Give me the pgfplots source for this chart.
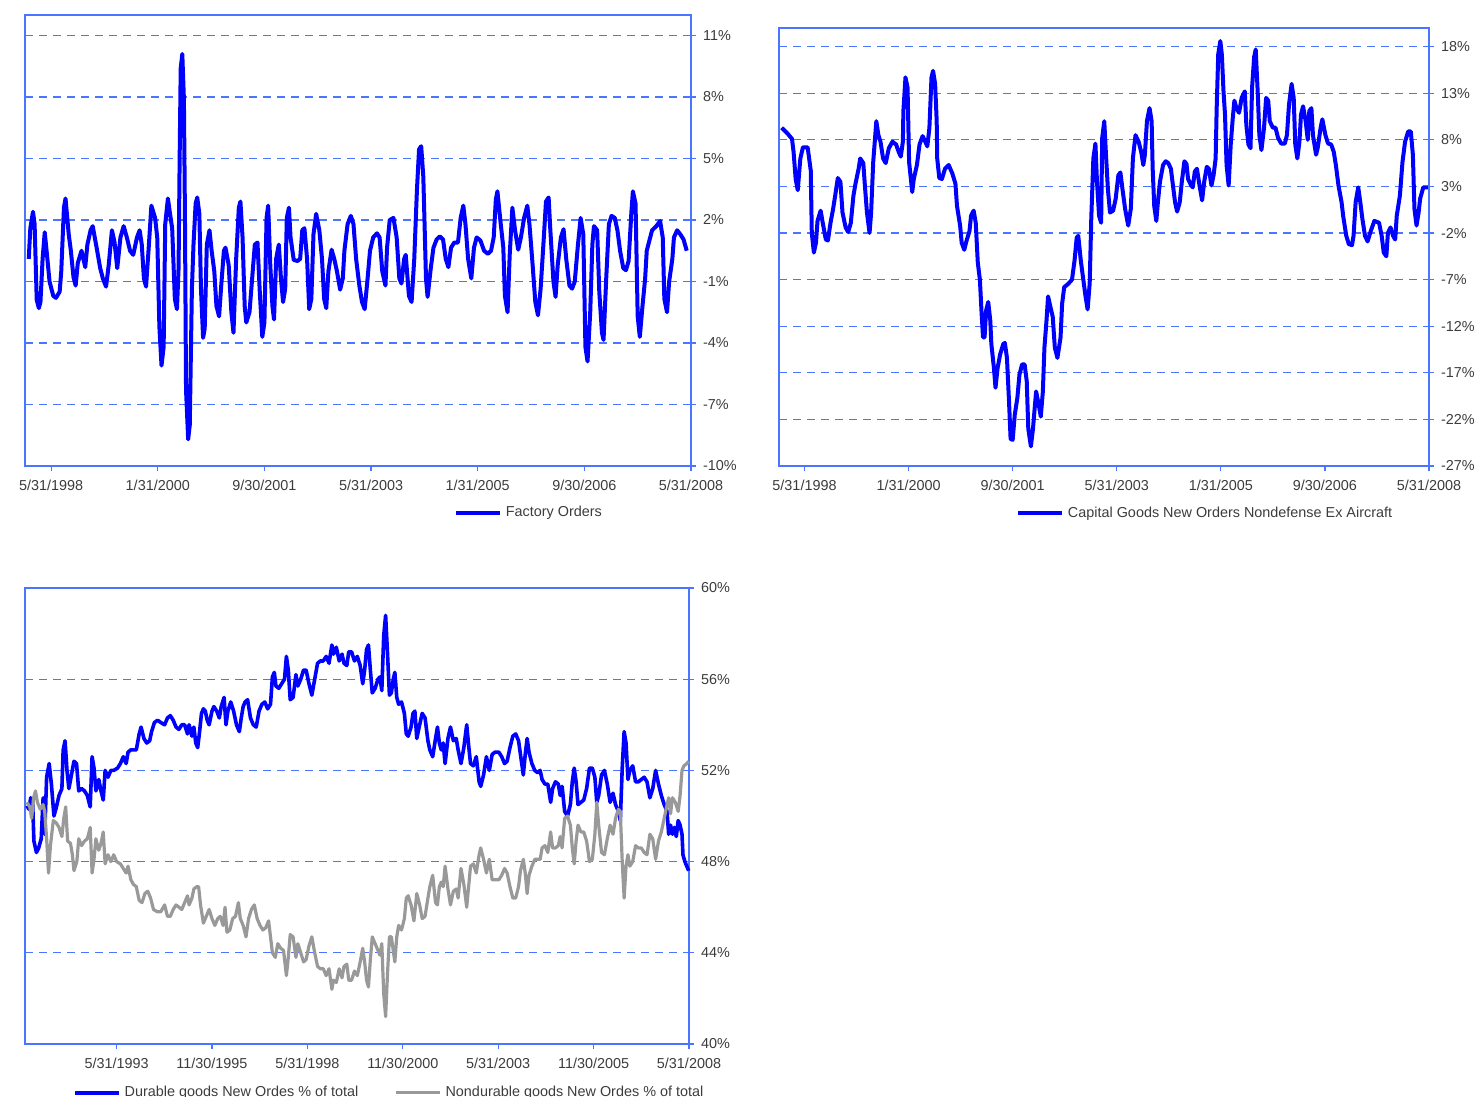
\documentclass[border=0pt]{standalone}
\usepackage{pgfplots}
\pgfplotsset{compat=1.18}
\usepackage{fontspec}
\setmainfont{Liberation Sans}
\definecolor{frameblue}{HTML}{4A76FF}
\definecolor{lineblue}{HTML}{0000FF}
\definecolor{linegray}{HTML}{999999}
\definecolor{labelgray}{HTML}{3C3C3C}

\pgfplotsset{
  panel/.style={
    scale only axis,
    axis line style={frameblue, line width=0.75pt},
    tick style={frameblue, line width=0.6pt},
    major tick length=2.5pt,
    tick align=outside,
    xtick pos=bottom, ytick pos=right, yticklabel pos=right,
    ymajorgrids,
    grid style={frameblue, dash pattern=on 4pt off 3pt, line width=0.6pt},
    tick label style={font=\fontsize{7.2}{8}\selectfont, text=labelgray},
    xticklabel style={yshift=-1pt},
    /pgf/number format/assume math mode=true,
    /pgf/number format/fixed, /pgf/number format/precision=0,
    yticklabel={\pgfmathprintnumber{\tick}\%},
    legend style={draw=none, fill=none, anchor=center, inner sep=0pt,
      font=\fontsize{7.2}{8}\selectfont, text=labelgray,
      /tikz/every even column/.append style={column sep=16pt}},
    legend image code/.code={\draw[##1] (0pt,0pt) -- (22pt,0pt);},
    clip=false,
  },
}

\begin{document}
\begin{tikzpicture}
\useasboundingbox (0,0) rectangle (738.5pt,548.5pt);

% Factory Orders
\begin{axis}[panel,
  at={(12.5pt,315.5pt)}, anchor=south west,
  width=333pt, height=225.5pt,
  xmin=-4.9, xmax=120, ymin=-10, ymax=12,
  xtick={0,20,...,120},
  xticklabels={5/31/1998,1/31/2000,9/30/2001,5/31/2003,1/31/2005,9/30/2006,5/31/2008},
  ytick={-10,-7,...,11},
  legend style={at={(0.758,-0.104)}},
]
\addplot[lineblue, line width=2pt, line join=round] coordinates {
(-4.2,0.1)(-3.9,1.6)(-3.4,2.4)(-3.1,1.8)(-2.7,-1.9)(-2.3,-2.3)(-2.0,-2.0)(-1.6,0.1)(-1.2,1.4)(-0.7,0.1)(-0.3,-1.0)(0.4,-1.7)(0.9,-1.8)(1.6,-1.5)(1.9,-0.5)(2.4,2.6)(2.7,3.05)(3.3,1.3)(3.7,0.5)(4.2,-0.8)(4.6,-1.2)(5.0,-0.1)(5.7,0.5)(6.4,-0.3)(6.8,0.8)(7.4,1.5)(7.8,1.7)(8.6,0.55)(9.2,-0.35)(9.7,-0.85)(10.3,-1.25)(10.8,-0.2)(11.4,1.5)(11.9,0.9)(12.4,-0.35)(13.0,1.15)(13.6,1.7)(14.2,1.15)(14.8,0.5)(15.4,0.3)(16.1,1.15)(16.6,1.5)(17.0,0.8)(17.4,-0.85)(17.8,-1.25)(18.3,0.65)(18.8,2.7)(19.5,2.1)(19.9,1.15)(20.3,-3.2)(20.7,-5.1)(21.1,-4.2)(21.4,1.8)(21.9,3.05)(22.3,2.3)(22.7,1.6)(23.2,-1.85)(23.6,-2.35)(23.9,-0.35)(24.1,4.95)(24.3,9.4)(24.6,10.1)(24.9,7.9)(25.1,2.1)(25.3,-6.3)(25.7,-8.7)(26.0,-8.0)(26.4,-1.35)(26.7,0.8)(27.1,2.8)(27.4,3.1)(27.8,2.3)(28.1,-1.35)(28.5,-3.75)(28.8,-3.3)(29.2,0.8)(29.7,1.5)(30.1,0.5)(30.6,-0.5)(31.0,-2.2)(31.5,-2.7)(31.9,-1.2)(32.4,0.5)(32.7,0.65)(33.3,-0.2)(33.8,-2.5)(34.2,-3.5)(34.7,0.1)(35.2,2.6)(35.5,2.9)(35.9,1.15)(36.3,-2.2)(36.6,-3.0)(37.2,-2.5)(37.7,-0.85)(38.2,0.8)(38.7,0.9)(39.1,-1.35)(39.6,-3.7)(40.0,-3.0)(40.4,2.1)(40.7,2.7)(41.1,-0.2)(41.5,-2.2)(41.8,-2.85)(42.2,0.1)(42.7,0.8)(43.1,-0.85)(43.5,-2.0)(43.9,-1.35)(44.2,2.1)(44.6,2.6)(44.9,1.15)(45.5,0.05)(46.2,0.0)(46.7,0.1)(47.1,1.5)(47.5,1.6)(48.0,0.1)(48.4,-2.35)(48.8,-1.85)(49.2,1.3)(49.7,2.3)(50.3,1.5)(50.8,0.1)(51.2,-1.85)(51.6,-2.3)(52.0,-0.5)(52.6,0.55)(53.1,0.1)(53.6,-0.5)(54.2,-1.4)(54.7,-0.85)(55.0,0.5)(55.6,1.8)(56.2,2.2)(56.7,1.8)(57.2,0.1)(57.8,-1.2)(58.3,-2.0)(58.8,-2.35)(59.3,-1.0)(59.8,0.5)(60.4,1.15)(61.1,1.35)(61.6,1.15)(62.1,-0.5)(62.7,-1.2)(63.0,0.65)(63.5,2.0)(64.2,2.1)(64.8,1.15)(65.3,-0.85)(65.7,-1.1)(66.2,0.1)(66.5,0.3)(67.1,-1.7)(67.6,-2.0)(68.1,0.1)(68.6,3.45)(69.0,5.45)(69.4,5.6)(69.8,4.1)(70.3,-0.85)(70.6,-1.75)(71.2,-0.35)(71.7,0.65)(72.3,1.05)(72.9,1.2)(73.5,1.05)(74.0,0.1)(74.5,-0.3)(75.0,0.65)(75.6,0.9)(76.3,0.9)(76.8,2.1)(77.3,2.7)(77.7,1.8)(78.2,0.1)(78.8,-0.85)(79.3,0.65)(79.8,1.15)(80.5,1.0)(81.2,0.5)(81.9,0.35)(82.5,0.5)(83.0,1.15)(83.4,3.0)(83.7,3.4)(84.2,2.1)(84.8,0.65)(85.1,-1.7)(85.6,-2.5)(86.0,0.3)(86.5,2.6)(87.0,1.5)(87.6,0.55)(88.1,1.15)(88.7,2.1)(89.3,2.7)(89.7,1.8)(90.3,-0.2)(90.8,-2.0)(91.3,-2.65)(91.8,-1.35)(92.4,1.15)(92.8,2.9)(93.3,3.1)(93.6,1.6)(94.2,-1.0)(94.6,-1.75)(95.0,-0.2)(95.6,1.15)(96.1,1.55)(96.6,0.1)(97.2,-1.2)(97.7,-1.35)(98.2,-1.0)(98.8,0.8)(99.3,2.1)(99.8,1.3)(100.2,-4.2)(100.6,-4.9)(101.1,-2.5)(101.5,0.8)(101.8,1.7)(102.4,1.5)(102.8,-1.5)(103.3,-3.5)(103.6,-3.85)(104.1,-0.85)(104.6,1.8)(105.1,2.2)(105.7,2.1)(106.2,1.5)(106.7,0.5)(107.3,-0.35)(107.8,-0.45)(108.3,0.0)(108.8,2.3)(109.1,3.4)(109.6,2.8)(110.0,-2.7)(110.4,-3.7)(110.9,-2.2)(111.4,-0.85)(111.7,0.5)(112.2,1.0)(112.7,1.5)(113.5,1.7)(114.2,1.95)(114.7,1.15)(115.0,-1.85)(115.5,-2.5)(115.9,-1.0)(116.5,0.1)(116.8,1.15)(117.4,1.5)(118.0,1.3)(118.6,1.05)(119.2,0.5)
};
\legend{Factory Orders}
\end{axis}

% Capital goods
\begin{axis}[panel,
  at={(389.5pt,315.5pt)}, anchor=south west,
  width=325pt, height=219pt,
  xmin=-4.9, xmax=120, ymin=-27, ymax=20,
  xtick={0,20,...,120},
  xticklabels={5/31/1998,1/31/2000,9/30/2001,5/31/2003,1/31/2005,9/30/2006,5/31/2008},
  ytick={-27,-22,...,18},
  legend style={at={(0.657,-0.108)}},
]
\addplot[lineblue, line width=2pt, line join=round] coordinates {
(-4.4,9.3)(-3.3,8.7)(-2.4,8.1)(-2.1,6.7)(-1.7,3.8)(-1.3,2.6)(-0.8,6.0)(-0.3,7.2)(0.6,7.2)(1.2,4.7)(1.4,-2.0)(1.8,-4.1)(2.2,-3.05)(2.5,-0.7)(3.1,0.4)(3.5,-0.9)(4.1,-2.7)(4.5,-2.8)(5.0,-0.9)(5.5,0.6)(6.0,2.4)(6.4,3.9)(6.9,3.5)(7.3,0.2)(7.9,-1.4)(8.4,-1.9)(8.9,-0.9)(9.4,2.0)(9.8,3.3)(10.4,4.9)(10.7,6.0)(11.3,5.5)(11.6,3.1)(12.0,0.2)(12.5,-2.0)(12.8,0.2)(13.2,5.6)(13.5,7.8)(13.8,10.0)(14.2,8.5)(14.6,7.8)(15.1,6.0)(15.6,5.5)(16.2,7.1)(16.9,7.8)(17.6,7.5)(18.1,6.7)(18.5,6.2)(18.9,7.8)(19.0,11.1)(19.4,14.7)(19.8,13.6)(20.1,5.6)(20.7,2.4)(21.0,3.8)(21.6,5.3)(22.1,7.5)(22.7,8.4)(23.2,7.8)(23.6,7.3)(24.0,9.3)(24.4,14.7)(24.7,15.4)(25.1,14.0)(25.4,10.0)(25.5,6.0)(25.9,3.9)(26.4,3.8)(27.0,4.9)(27.7,5.3)(28.4,4.4)(29.0,3.3)(29.3,0.9)(29.9,-1.2)(30.2,-3.05)(30.7,-3.8)(31.1,-2.9)(31.7,-1.8)(32.0,-0.15)(32.5,0.4)(32.9,-0.9)(33.3,-5.2)(33.7,-7.0)(34.0,-10.3)(34.3,-13.2)(34.6,-13.2)(34.9,-10.3)(35.3,-9.4)(35.7,-11.4)(35.9,-13.9)(36.4,-16.5)(36.7,-18.6)(37.1,-16.5)(37.6,-15.0)(38.2,-13.9)(38.5,-13.8)(38.9,-15.4)(39.3,-20.1)(39.6,-24.1)(40.0,-24.2)(40.4,-21.5)(40.9,-19.7)(41.3,-17.2)(41.8,-16.1)(42.3,-16.1)(42.7,-17.9)(43.0,-23.0)(43.5,-24.9)(43.9,-23.0)(44.5,-19.0)(45.0,-20.4)(45.4,-21.7)(45.8,-19.0)(46.1,-14.3)(46.5,-11.4)(46.8,-8.8)(47.2,-9.8)(47.7,-11.0)(48.1,-14.3)(48.6,-15.4)(49.2,-13.2)(49.5,-9.6)(49.9,-7.8)(50.6,-7.5)(51.4,-7.0)(51.9,-4.9)(52.3,-2.5)(52.6,-2.3)(53.1,-5.0)(53.5,-6.7)(54.0,-8.8)(54.4,-10.2)(54.8,-7.4)(55.1,-0.5)(55.5,6.0)(55.9,7.6)(56.2,3.5)(56.6,-0.15)(57.0,-0.9)(57.2,8.2)(57.6,10.0)(57.9,6.7)(58.3,2.7)(58.7,0.2)(59.3,0.4)(59.8,1.7)(60.3,4.2)(60.7,4.5)(61.1,2.7)(61.6,0.6)(62.2,-1.2)(62.7,0.6)(63.1,6.0)(63.6,8.5)(64.2,7.8)(64.7,6.7)(65.1,5.3)(65.4,6.4)(65.8,10.0)(66.3,11.4)(66.7,10.0)(66.9,4.9)(67.2,0.9)(67.6,-0.7)(67.9,1.3)(68.3,3.5)(68.9,5.3)(69.4,5.7)(69.9,5.5)(70.4,4.9)(70.8,3.1)(71.2,1.3)(71.6,0.3)(72.1,1.3)(72.5,3.5)(73.0,5.7)(73.4,5.4)(73.7,3.8)(74.3,3.1)(74.6,2.9)(75.0,4.6)(75.4,4.9)(75.9,3.1)(76.4,1.5)(76.8,3.5)(77.3,5.1)(77.7,4.9)(78.2,3.1)(78.6,4.2)(79.0,6.0)(79.2,11.4)(79.5,17.2)(79.9,18.6)(80.2,17.1)(80.5,13.3)(80.8,10.7)(81.1,5.3)(81.5,3.1)(81.9,7.5)(82.3,10.4)(82.6,12.2)(83.0,11.4)(83.5,10.9)(84.0,12.5)(84.6,13.2)(84.9,9.6)(85.3,7.5)(85.7,7.1)(86.0,13.6)(86.4,16.9)(86.7,17.7)(87.1,12.9)(87.4,8.5)(87.8,6.9)(88.3,9.3)(88.7,12.5)(89.1,12.2)(89.4,10.0)(90.0,9.3)(90.5,9.3)(91.0,8.2)(91.6,7.6)(92.3,7.6)(92.7,8.5)(93.1,11.8)(93.6,14.0)(94.0,12.5)(94.3,7.5)(94.7,6.0)(95.1,7.8)(95.4,10.7)(95.8,11.6)(96.3,10.0)(96.7,8.0)(97.0,11.1)(97.4,11.4)(97.7,8.5)(98.3,6.4)(98.6,7.1)(99.2,9.4)(99.5,10.2)(100.1,8.5)(100.6,7.6)(101.2,7.5)(101.7,6.7)(102.1,5.3)(102.6,3.1)(103.2,1.3)(103.5,-0.15)(104.1,-2.3)(104.6,-3.2)(105.2,-3.3)(105.5,-2.3)(105.9,1.3)(106.4,2.9)(106.8,1.3)(107.2,-0.5)(107.7,-2.3)(108.2,-2.9)(108.8,-1.8)(109.5,-0.7)(110.4,-0.9)(110.9,-2.3)(111.3,-4.1)(111.8,-4.5)(112.1,-2.0)(112.6,-1.4)(113.1,-2.3)(113.5,-2.7)(113.8,-0.15)(114.4,2.0)(114.9,5.6)(115.4,7.8)(116.0,8.9)(116.5,8.9)(116.9,6.4)(117.2,0.6)(117.6,-1.2)(118.0,0.2)(118.3,1.7)(118.9,2.9)(119.8,2.9)
};
\legend{Capital Goods New Orders Nondefense Ex Aircraft}
\end{axis}

% Durable vs nondurable share
\begin{axis}[panel,
  at={(12.5pt,26.5pt)}, anchor=south west,
  width=332pt, height=228pt,
  xmin=-28.8, xmax=180, ymin=40, ymax=60,
  xtick={0,30,...,180},
  xticklabels={5/31/1993,11/30/1995,5/31/1998,11/30/2000,5/31/2003,11/30/2005,5/31/2008},
  ytick={40,44,...,60},
  legend columns=2,
  legend style={at={(0.55,-0.107)}},
]
\addplot[lineblue, line width=1.8pt, line join=round] coordinates {
(-28.2,50.45)(-27.6,50.3)(-27.0,50.8)(-26.4,50.6)(-26.0,48.9)(-25.2,48.4)(-24.5,48.6)(-23.7,49.0)(-23.1,50.8)(-22.6,49.2)(-22.0,51.7)(-21.2,52.3)(-20.5,51.4)(-19.7,50.0)(-19.0,50.35)(-18.1,50.9)(-17.2,51.2)(-16.8,52.9)(-16.2,53.3)(-15.6,52.0)(-15.0,51.2)(-14.2,51.8)(-13.4,52.4)(-12.6,52.3)(-11.9,51.1)(-11.0,51.2)(-10.1,51.1)(-9.2,50.9)(-8.3,50.4)(-7.7,52.6)(-7.1,52.1)(-6.5,51.1)(-5.6,51.6)(-4.9,51.1)(-4.2,50.7)(-3.6,52.0)(-2.7,51.7)(-1.8,52.0)(-0.9,52.0)(0.3,52.1)(1.2,52.3)(2.1,52.6)(3.0,52.3)(3.6,52.8)(4.5,52.9)(5.3,52.9)(6.2,52.9)(7.1,53.6)(7.7,53.9)(8.6,53.4)(9.5,53.2)(10.4,53.3)(11.0,53.7)(11.9,54.1)(12.9,54.2)(13.9,54.1)(15.1,54.0)(16.0,54.3)(16.9,54.4)(17.8,54.2)(18.7,53.9)(19.6,53.8)(20.5,54.0)(21.4,54.0)(22.3,53.6)(22.8,54.0)(23.7,53.5)(24.3,53.9)(24.9,53.2)(25.5,53.0)(26.1,53.7)(26.7,54.5)(27.3,54.7)(27.9,54.6)(28.5,54.2)(29.1,54.0)(30.0,54.6)(30.6,54.8)(31.5,54.6)(32.3,54.3)(32.9,54.8)(33.8,55.2)(34.4,54.0)(35.0,54.6)(35.9,55.0)(36.8,54.6)(37.7,54.0)(38.6,53.7)(39.2,54.3)(39.8,54.8)(40.4,55.0)(41.2,55.1)(42.1,54.3)(43.0,54.0)(43.9,53.9)(44.8,54.6)(45.7,54.9)(46.6,55.0)(47.5,54.7)(48.4,54.9)(49.0,56.1)(49.6,56.3)(50.1,55.7)(51.0,55.6)(51.9,55.8)(52.8,56.0)(53.4,57.0)(54.0,56.4)(54.6,55.1)(55.5,55.2)(56.4,56.2)(57.0,55.7)(57.9,56.0)(58.8,56.4)(59.6,56.4)(60.5,55.8)(61.4,55.3)(62.3,56.0)(63.2,56.7)(64.1,56.8)(65.0,56.8)(65.9,57.0)(66.8,56.7)(67.7,57.5)(68.2,57.1)(69.1,57.4)(70.0,56.8)(70.9,57.1)(71.5,56.7)(72.4,56.6)(73.0,57.2)(73.9,57.2)(74.8,56.8)(75.7,57.0)(76.6,56.6)(77.4,55.8)(78.0,56.4)(78.6,57.3)(79.2,57.5)(79.8,56.4)(80.4,55.4)(81.3,55.6)(82.2,56.0)(82.8,56.1)(83.4,55.5)(84.0,57.9)(84.6,58.8)(85.2,57.1)(85.8,55.3)(86.4,55.4)(87.0,56.0)(87.5,56.3)(88.1,55.2)(88.7,54.9)(89.6,55.0)(90.5,54.5)(91.1,53.6)(91.7,53.5)(92.6,53.9)(93.2,54.5)(93.8,54.6)(94.4,53.4)(95.3,54.0)(96.1,54.5)(97.0,54.3)(97.9,53.3)(98.5,52.9)(99.4,52.6)(100.3,53.4)(100.9,53.9)(101.5,53.2)(102.1,52.9)(102.7,53.2)(103.3,52.3)(104.2,53.4)(105.0,53.9)(105.9,53.3)(106.8,53.4)(107.4,52.9)(108.3,52.3)(109.2,53.0)(110.1,54.0)(110.7,53.1)(111.3,52.3)(112.2,52.2)(113.1,52.6)(114.0,51.5)(114.5,51.3)(115.4,51.8)(116.3,52.6)(117.2,52.0)(118.1,52.7)(119.0,52.8)(120.2,52.8)(121.1,52.6)(122.0,52.3)(122.8,52.4)(123.7,53.0)(124.6,53.5)(125.5,53.6)(126.4,53.3)(127.0,52.7)(127.9,51.8)(128.5,52.7)(129.1,53.4)(129.7,52.8)(130.6,52.3)(131.5,52.0)(132.4,51.9)(133.2,52.0)(133.8,51.6)(134.7,51.4)(135.6,51.4)(136.5,50.6)(137.1,51.2)(138.0,51.5)(138.9,51.4)(139.5,50.9)(140.1,51.3)(140.9,50.2)(141.8,50.0)(142.7,50.5)(143.3,51.5)(143.9,52.1)(144.5,51.5)(145.1,50.5)(146.0,50.6)(146.9,50.7)(147.8,51.2)(148.7,52.1)(149.6,52.1)(150.4,51.7)(151.0,50.6)(151.6,50.9)(152.5,51.8)(153.4,52.0)(154.3,51.4)(155.2,50.6)(156.1,51.0)(156.9,50.5)(157.8,50.2)(158.4,49.8)(159.0,52.1)(159.6,53.7)(160.2,53.2)(160.8,51.6)(161.4,52.0)(162.3,52.2)(163.2,51.5)(164.1,51.5)(165.0,51.6)(165.9,51.7)(166.8,51.5)(167.7,50.8)(168.6,51.2)(169.5,52.0)(170.4,51.4)(171.3,50.9)(172.2,50.5)(173.1,50.2)(173.6,49.2)(174.2,49.6)(174.8,49.2)(175.4,49.5)(176.0,49.1)(176.6,49.8)(177.2,49.6)(177.8,49.2)(178.1,48.3)(178.7,48.0)(179.3,47.8)(179.9,47.6)
};
\addplot[linegray, line width=1.6pt, line join=round] coordinates {
(-28.2,50.6)(-27.3,50.4)(-26.7,49.9)(-26.1,50.8)(-25.5,51.1)(-24.9,50.6)(-24.0,50.3)(-23.1,50.5)(-22.6,50.2)(-22.0,49.0)(-21.4,47.5)(-20.8,48.7)(-19.9,49.8)(-19.0,49.7)(-18.1,49.5)(-17.2,49.1)(-16.6,49.9)(-16.0,50.4)(-15.4,48.9)(-14.5,48.8)(-13.9,48.3)(-13.4,47.6)(-12.5,48.0)(-11.9,49.0)(-11.0,48.7)(-10.1,48.9)(-9.2,49.0)(-8.3,49.5)(-7.7,47.5)(-7.1,48.1)(-6.5,49.0)(-5.6,48.5)(-4.9,48.8)(-4.2,49.3)(-3.6,47.9)(-2.7,48.3)(-1.8,48.0)(-0.9,48.3)(0.0,48.0)(1.2,47.9)(2.1,47.7)(3.0,47.5)(3.6,47.8)(4.5,47.2)(5.3,47.0)(6.2,46.9)(7.1,46.3)(8.0,46.2)(8.9,46.6)(9.8,46.7)(10.7,46.4)(11.6,45.9)(12.8,45.8)(13.9,45.8)(15.1,46.1)(16.0,45.6)(16.9,45.6)(17.8,45.9)(18.7,46.1)(19.6,46.0)(20.5,45.9)(21.4,46.2)(22.3,46.5)(22.8,46.1)(23.7,46.4)(24.3,46.8)(25.2,46.9)(25.8,46.9)(26.4,46.1)(27.3,45.3)(28.2,45.6)(29.1,45.9)(30.0,45.5)(30.9,45.2)(31.8,45.5)(32.6,45.6)(33.5,45.2)(34.1,46.0)(34.7,44.9)(35.6,45.0)(36.5,45.5)(37.4,45.6)(38.3,46.2)(38.9,45.5)(39.8,45.2)(40.7,44.7)(41.5,45.5)(42.4,45.9)(43.3,46.1)(44.2,45.5)(45.1,45.2)(46.0,45.0)(46.9,45.1)(47.8,45.4)(48.4,44.7)(49.0,44.0)(49.9,43.8)(50.7,44.4)(51.6,44.2)(52.5,44.1)(53.4,43.0)(54.0,43.8)(54.6,44.8)(55.5,44.7)(56.4,43.8)(57.0,44.4)(57.9,44.0)(58.8,43.6)(59.6,43.7)(60.5,44.3)(61.4,44.7)(62.3,44.0)(63.2,43.4)(64.1,43.3)(65.0,43.3)(65.9,43.0)(66.8,43.3)(67.7,42.4)(68.2,42.8)(69.1,42.7)(70.0,43.3)(70.9,42.9)(71.5,43.4)(72.4,43.5)(73.0,42.8)(73.9,42.8)(74.8,43.2)(75.7,43.0)(76.6,43.6)(77.4,44.2)(78.0,43.6)(78.6,42.8)(79.2,42.5)(79.8,43.7)(80.4,44.7)(81.3,44.4)(82.2,44.1)(82.8,43.9)(83.4,44.4)(84.0,42.2)(84.6,41.2)(85.2,43.1)(85.8,44.7)(86.4,44.7)(87.0,44.1)(87.5,43.6)(88.1,44.7)(88.7,45.2)(89.6,45.0)(90.5,45.5)(91.1,46.4)(91.7,46.5)(92.6,46.1)(93.5,45.4)(94.4,46.6)(95.3,46.1)(96.1,45.5)(97.0,45.6)(97.9,46.4)(98.5,46.9)(99.4,47.4)(100.3,46.2)(100.9,46.1)(101.5,46.9)(102.1,47.1)(102.7,46.9)(103.3,47.8)(104.2,46.8)(105.0,46.1)(105.9,46.7)(106.8,46.8)(107.4,46.4)(108.3,47.7)(109.2,47.0)(110.1,46.0)(110.7,46.9)(111.3,47.8)(112.2,47.9)(113.1,47.5)(114.0,48.3)(114.5,48.6)(115.4,48.1)(116.3,47.5)(117.2,48.1)(118.1,47.2)(119.0,47.2)(120.2,47.2)(121.1,47.4)(122.0,47.7)(122.8,47.5)(123.7,46.9)(124.6,46.4)(125.5,46.4)(126.4,46.9)(127.0,47.6)(127.9,48.1)(128.5,47.5)(129.1,46.6)(129.7,47.4)(130.6,47.8)(131.5,48.1)(132.4,48.1)(133.2,48.1)(133.8,48.6)(134.7,48.7)(135.6,48.4)(136.5,49.3)(137.1,48.6)(138.0,48.6)(138.9,48.7)(139.5,49.1)(140.1,48.6)(140.9,49.9)(141.8,50.0)(142.7,49.6)(143.3,48.6)(143.9,47.9)(144.5,48.9)(145.1,49.6)(146.0,49.3)(146.9,49.3)(147.8,48.9)(148.7,48.0)(149.6,48.1)(150.4,49.2)(151.0,50.6)(151.6,49.6)(152.5,48.4)(153.4,48.3)(154.3,49.0)(155.2,49.6)(156.1,49.2)(156.9,49.9)(157.8,50.3)(158.4,50.2)(159.0,48.0)(159.6,46.4)(160.2,47.8)(160.8,48.3)(161.4,47.8)(162.3,48.0)(163.2,48.7)(164.1,48.6)(165.0,48.6)(165.9,48.4)(166.8,48.3)(167.7,49.2)(168.6,49.0)(169.5,48.1)(170.4,48.9)(171.3,49.3)(172.2,49.9)(173.1,50.5)(173.6,50.8)(174.2,50.1)(174.8,50.8)(175.7,50.6)(176.6,50.2)(177.2,50.9)(177.8,52.0)(178.4,52.2)(179.3,52.3)(179.9,52.4)
};
\legend{Durable goods New Ordes \% of total, Nondurable goods New Ordes \% of total}
\end{axis}
\end{tikzpicture}
\end{document}
